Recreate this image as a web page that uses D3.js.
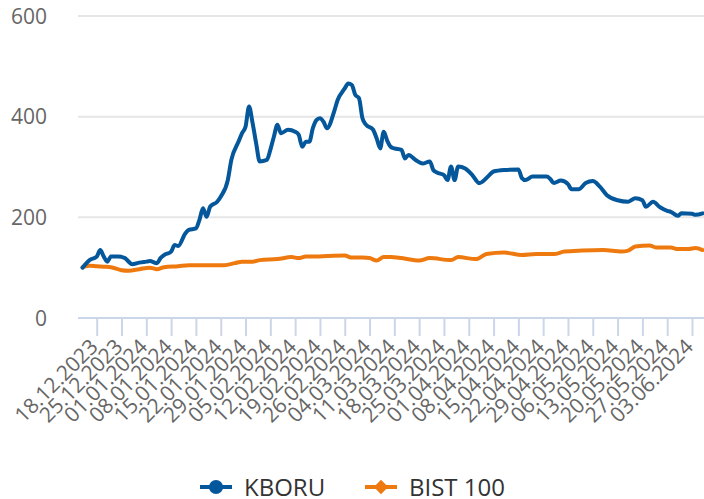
<!DOCTYPE html>
<html lang="tr">
<head>
    <meta charset="UTF-8">
    <title>KBORU vs BIST 100</title>
    <script src="https://d3js.org/d3.v7.min.js"></script>
    <style>
        body {
            margin: 0;
            background-color: white;
            font-family: "Open Sans", sans-serif;
        }
        .grid line {
            stroke: #e6e6e6;
            stroke-width: 2px;
        }
        .axis-label {
            font-size: 21px;
            fill: #666;
        }
        .legend-label {
            font-size: 24px;
            fill: #333;
        }
    </style>
</head>
<body>
    <script>
        // KBORU and BIST 100, both normalised to 100 on the first day
        const kboruDates = [
            "14.12.2023", "16.12.2023", "18.12.2023", "19.12.2023", "20.12.2023", "21.12.2023", "22.12.2023",
            "24.12.2023", "26.12.2023", "27.12.2023", "28.12.2023", "30.12.2023", "01.01.2024", "02.01.2024",
            "04.01.2024", "05.01.2024", "06.01.2024", "08.01.2024", "09.01.2024", "10.01.2024", "12.01.2024",
            "13.01.2024", "15.01.2024", "16.01.2024", "17.01.2024", "18.01.2024", "19.01.2024", "21.01.2024",
            "22.01.2024", "24.01.2024", "25.01.2024", "27.01.2024", "28.01.2024", "29.01.2024", "30.01.2024",
            "31.01.2024", "01.02.2024", "02.02.2024", "04.02.2024", "05.02.2024", "06.02.2024", "07.02.2024",
            "08.02.2024", "10.02.2024", "12.02.2024", "13.02.2024", "14.02.2024", "15.02.2024", "16.02.2024",
            "17.02.2024", "18.02.2024", "19.02.2024", "20.02.2024", "21.02.2024", "23.02.2024", "24.02.2024",
            "26.02.2024", "27.02.2024", "28.02.2024", "29.02.2024", "01.03.2024", "02.03.2024", "03.03.2024",
            "05.03.2024", "06.03.2024", "07.03.2024", "08.03.2024", "09.03.2024", "10.03.2024", "11.03.2024",
            "13.03.2024", "14.03.2024", "15.03.2024", "17.03.2024", "19.03.2024", "21.03.2024", "22.03.2024",
            "23.03.2024", "25.03.2024", "26.03.2024", "27.03.2024", "28.03.2024", "29.03.2024", "31.03.2024",
            "02.04.2024", "04.04.2024", "06.04.2024", "08.04.2024", "11.04.2024", "15.04.2024", "16.04.2024",
            "17.04.2024", "19.04.2024", "23.04.2024", "24.04.2024", "25.04.2024", "27.04.2024", "29.04.2024",
            "30.04.2024", "02.05.2024", "04.05.2024", "06.05.2024", "08.05.2024", "10.05.2024", "13.05.2024",
            "16.05.2024", "18.05.2024", "20.05.2024", "21.05.2024", "23.05.2024", "25.05.2024", "27.05.2024",
            "28.05.2024", "30.05.2024", "31.05.2024", "03.06.2024", "04.06.2024", "06.06.2024"
        ];
        const kboruValues = [
            100, 115, 122, 135, 122, 112, 122,
            122, 119, 112, 107, 110, 112, 113,
            109, 119, 125, 132, 145, 143, 168,
            175, 178, 195, 218, 201, 221, 231,
            241, 274, 314, 350, 367, 380, 420,
            387, 347, 311, 314, 334, 360, 384,
            367, 374, 370, 364, 340, 350, 350,
            377, 393, 397, 390, 377, 410, 433,
            456, 466, 463, 443, 437, 397, 384,
            374, 357, 337, 370, 352, 340, 337,
            334, 317, 324, 314, 307, 311, 294,
            289, 284, 274, 301, 274, 301, 297,
            284, 268, 278, 291, 294, 295, 278,
            274, 281, 281, 276, 268, 273, 266,
            256, 256, 268, 272, 261, 244, 234,
            231, 238, 234, 221, 231, 220, 213,
            211, 203, 208, 207, 205, 208
        ];

        const bistDates = [
            "14.12.2023", "16.12.2023", "18.12.2023", "20.12.2023", "22.12.2023", "25.12.2023", "27.12.2023",
            "30.12.2023", "02.01.2024", "04.01.2024", "06.01.2024", "10.01.2024", "13.01.2024", "17.01.2024",
            "23.01.2024", "26.01.2024", "28.01.2024", "31.01.2024", "02.02.2024", "07.02.2024", "11.02.2024",
            "13.02.2024", "15.02.2024", "18.02.2024", "21.02.2024", "26.02.2024", "28.02.2024", "02.03.2024",
            "04.03.2024", "06.03.2024", "08.03.2024", "10.03.2024", "13.03.2024", "18.03.2024", "21.03.2024",
            "27.03.2024", "29.03.2024", "03.04.2024", "06.04.2024", "11.04.2024", "16.04.2024", "20.04.2024",
            "25.04.2024", "28.04.2024", "03.05.2024", "09.05.2024", "14.05.2024", "16.05.2024", "18.05.2024",
            "22.05.2024", "24.05.2024", "28.05.2024", "30.05.2024", "02.06.2024", "04.06.2024", "06.06.2024"
        ];
        const bistValues = [
            101, 104, 103, 102, 101, 95, 94,
            97, 100, 97, 101, 103, 105, 105,
            105, 109, 112, 112, 115, 117, 121,
            119, 122, 122, 123, 124, 120, 120,
            119, 114, 121, 121, 119, 114, 119,
            115, 121, 117, 127, 130, 125, 127,
            127, 132, 134, 135, 132, 134, 142,
            144, 140, 140, 137, 137, 139, 135
        ];

        const tickLabels = [
            "18.12.2023", "25.12.2023", "01.01.2024", "08.01.2024", "15.01.2024", "22.01.2024", "29.01.2024",
            "05.02.2024", "12.02.2024", "19.02.2024", "26.02.2024", "04.03.2024", "11.03.2024", "18.03.2024",
            "25.03.2024", "01.04.2024", "08.04.2024", "15.04.2024", "22.04.2024", "29.04.2024", "06.05.2024",
            "13.05.2024", "20.05.2024", "27.05.2024", "03.06.2024"
        ];
        const yTicks = [0, 200, 400, 600];
        const seriesNames = ["KBORU", "BIST 100"];
        const seriesColors = ["#04579b", "#ee7a0f"];

        const width = 704;
        const height = 499;
        const plot = {left: 78, right: 704, top: 16, bottom: 318};

        const parseDate = d3.utcParse("%d.%m.%Y");
        const fmtDate = d3.utcFormat("%d.%m.%Y");

        const series = [
            kboruDates.map((d, i) => ({date: parseDate(d), value: kboruValues[i]})),
            bistDates.map((d, i) => ({date: parseDate(d), value: bistValues[i]}))
        ];

        const svg = d3.select("body").append("svg")
            .attr("width", width)
            .attr("height", height)
            .style("background-color", "white");

        const x = d3.scaleUtc()
            .domain([parseDate(tickLabels[0]), parseDate(tickLabels[tickLabels.length - 1])])
            .range([96.7, 692]);

        const y = d3.scaleLinear()
            .domain([0, 600])
            .range([plot.bottom, plot.top]);

        // horizontal grid lines
        svg.append("g")
            .attr("class", "grid")
            .selectAll("line")
            .data(yTicks.filter(d => d > 0))
            .enter().append("line")
            .attr("x1", plot.left)
            .attr("x2", plot.right)
            .attr("y1", d => y(d))
            .attr("y2", d => y(d));

        // y labels
        svg.append("g")
            .selectAll("text")
            .data(yTicks)
            .enter().append("text")
            .attr("class", "axis-label")
            .attr("x", 47)
            .attr("y", d => y(d))
            .attr("dy", "0.36em")
            .style("text-anchor", "end")
            .text(d => d);

        // x axis
        const xAxis = d3.axisBottom(x)
            .tickValues(tickLabels.map(parseDate))
            .tickSize(18)
            .tickSizeOuter(0)
            .tickFormat(fmtDate);

        const gx = svg.append("g")
            .attr("transform", "translate(0," + plot.bottom + ")")
            .call(xAxis);

        gx.select(".domain")
            .attr("d", "M" + plot.left + ",0H" + plot.right)
            .attr("stroke", "#ccd6eb")
            .attr("stroke-width", 2);

        gx.selectAll(".tick line")
            .attr("stroke", "#ccd6eb")
            .attr("stroke-width", 2);

        gx.selectAll(".tick text")
            .attr("class", "axis-label")
            .attr("y", 0)
            .attr("dy", 0)
            .attr("transform", "translate(2,30)rotate(-45)")
            .style("text-anchor", "end")
            .style("font-family", "'Open Sans', sans-serif");

        // series lines
        const line = d3.line()
            .x(d => x(d.date))
            .y(d => y(d.value))
            .curve(d3.curveMonotoneX);

        svg.append("g")
            .selectAll("path")
            .data(series.slice().reverse())
            .enter().append("path")
            .attr("d", line)
            .attr("fill", "none")
            .attr("stroke", (d, i) => seriesColors[1 - i])
            .attr("stroke-width", 4)
            .attr("stroke-linejoin", "round")
            .attr("stroke-linecap", "round");

        // legend
        const legendY = 487;
        const legendX = [200, 365];
        const legend = svg.append("g");

        seriesNames.forEach((name, i) => {
            const g = legend.append("g")
                .attr("transform", "translate(" + legendX[i] + "," + legendY + ")");
            g.append("line")
                .attr("x1", 0)
                .attr("x2", 32)
                .attr("stroke", seriesColors[i])
                .attr("stroke-width", 4);
            if (i === 0) {
                g.append("circle")
                    .attr("cx", 16)
                    .attr("r", 7)
                    .attr("fill", seriesColors[i]);
            } else {
                g.append("path")
                    .attr("d", d3.symbol().type(d3.symbolDiamond2).size(130))
                    .attr("transform", "translate(16,0)")
                    .attr("fill", seriesColors[i]);
            }
            g.append("text")
                .attr("class", "legend-label")
                .attr("x", 44)
                .attr("dy", "0.36em")
                .text(name);
        });
    </script>
</body>
</html>
